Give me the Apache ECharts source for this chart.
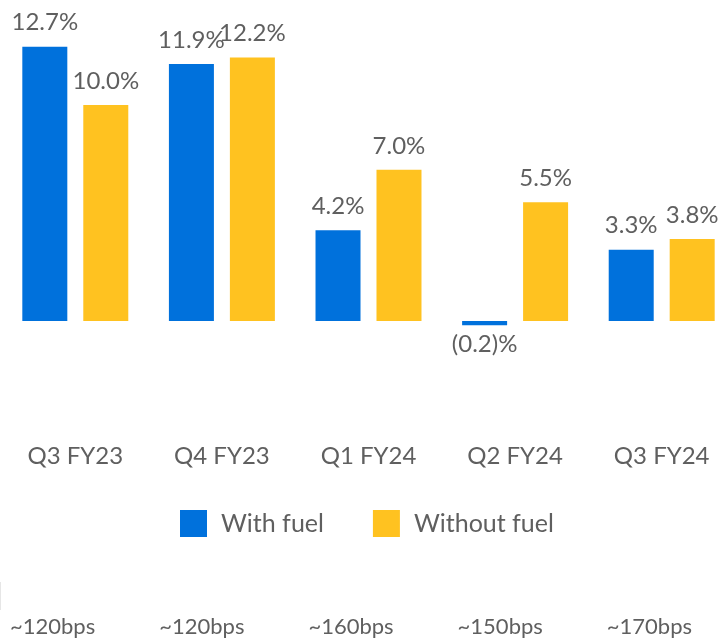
<!DOCTYPE html>
<html>
<head>
<meta charset="utf-8">
<script src="https://cdn.jsdelivr.net/npm/echarts@6/dist/echarts.min.js"></script>
<style>
	html, body { margin: 0; padding: 0; background: #fff; }
	#chart { width: 721px; height: 642px; }
</style>
</head>
<body>
<div id="chart"></div>
<script>
	const categories = ['Q3 FY23', 'Q4 FY23', 'Q1 FY24', 'Q2 FY24', 'Q3 FY24'];
	const withFuel = [12.7, 11.9, 4.2, -0.2, 3.3];
	const withoutFuel = [10.0, 12.2, 7.0, 5.5, 3.8];
	const bpsLabels = ['~120bps', '~120bps', '~160bps', '~150bps', '~170bps'];

	const textColor = '#5f5f5f';
	const font = 'Lato, "Open Sans", sans-serif';

	function pctLabel(p) {
		const v = p.value;
		return v < 0 ? '(' + Math.abs(v).toFixed(1) + ')%' : v.toFixed(1) + '%';
	}

	let option = {
		animation: false,
		backgroundColor: '#fff',
		color: ['#0071DC', '#FFC220'],
		textStyle: { fontFamily: font },
		legend: {
			top: 505,
			left: 175,
			itemWidth: 27,
			itemHeight: 27,
			itemGap: 49,
			icon: 'rect',
			textStyle: { fontSize: 25, color: textColor, fontFamily: font, padding: [0, 0, 0, 9] },
			data: ['With fuel', 'Without fuel']
		},
		grid: [
			{ left: 2, width: 733, top: 18.6, height: 345.6, outerBoundsMode: 'none', containLabel: false },
			{ left: -22, width: 746, top: 600, height: 2, outerBoundsMode: 'none', containLabel: false }
		],
		xAxis: [{
			type: 'category',
			gridIndex: 0,
			data: categories,
			axisLine: { show: false },
			axisTick: { show: false },
			axisLabel: { margin: 80, fontSize: 24, color: textColor, fontFamily: font }
		}, {
			type: 'category',
			gridIndex: 1,
			data: bpsLabels,
			axisLine: { show: false },
			axisTick: { show: false },
			axisLabel: { margin: 14, fontSize: 22, color: textColor, fontFamily: font }
		}],
		yAxis: [{
			type: 'value',
			gridIndex: 0,
			min: -2,
			max: 14,
			show: false,
			splitLine: { show: false }
		}, {
			type: 'value',
			gridIndex: 1,
			show: false
		}],
		series: [
			{
				name: 'With fuel',
				type: 'bar',
				barWidth: 45,
				barGap: '35.5%',
				data: withFuel.map(v => ({
					value: v,
					label: v < 0 ? { position: 'bottom', distance: 7 } : { position: 'top' }
				})),
				label: {
					show: true,
					distance: 12,
					fontSize: 24,
					color: textColor,
					fontFamily: font,
					formatter: pctLabel
				}
			},
			{
				name: 'Without fuel',
				type: 'bar',
				barWidth: 45,
				data: withoutFuel,
				label: {
					show: true,
					position: 'top',
					distance: 12,
					fontSize: 24,
					color: textColor,
					fontFamily: font,
					formatter: pctLabel
				}
			}
		],
		graphic: [{
			type: 'line',
			shape: { x1: 0.5, y1: 582, x2: 0.5, y2: 610 },
			style: { stroke: '#e6e6e6', lineWidth: 1 }
		}]
	};

	let chart = echarts.init(document.getElementById('chart'));
	chart.setOption(option);
</script>
</body>
</html>
